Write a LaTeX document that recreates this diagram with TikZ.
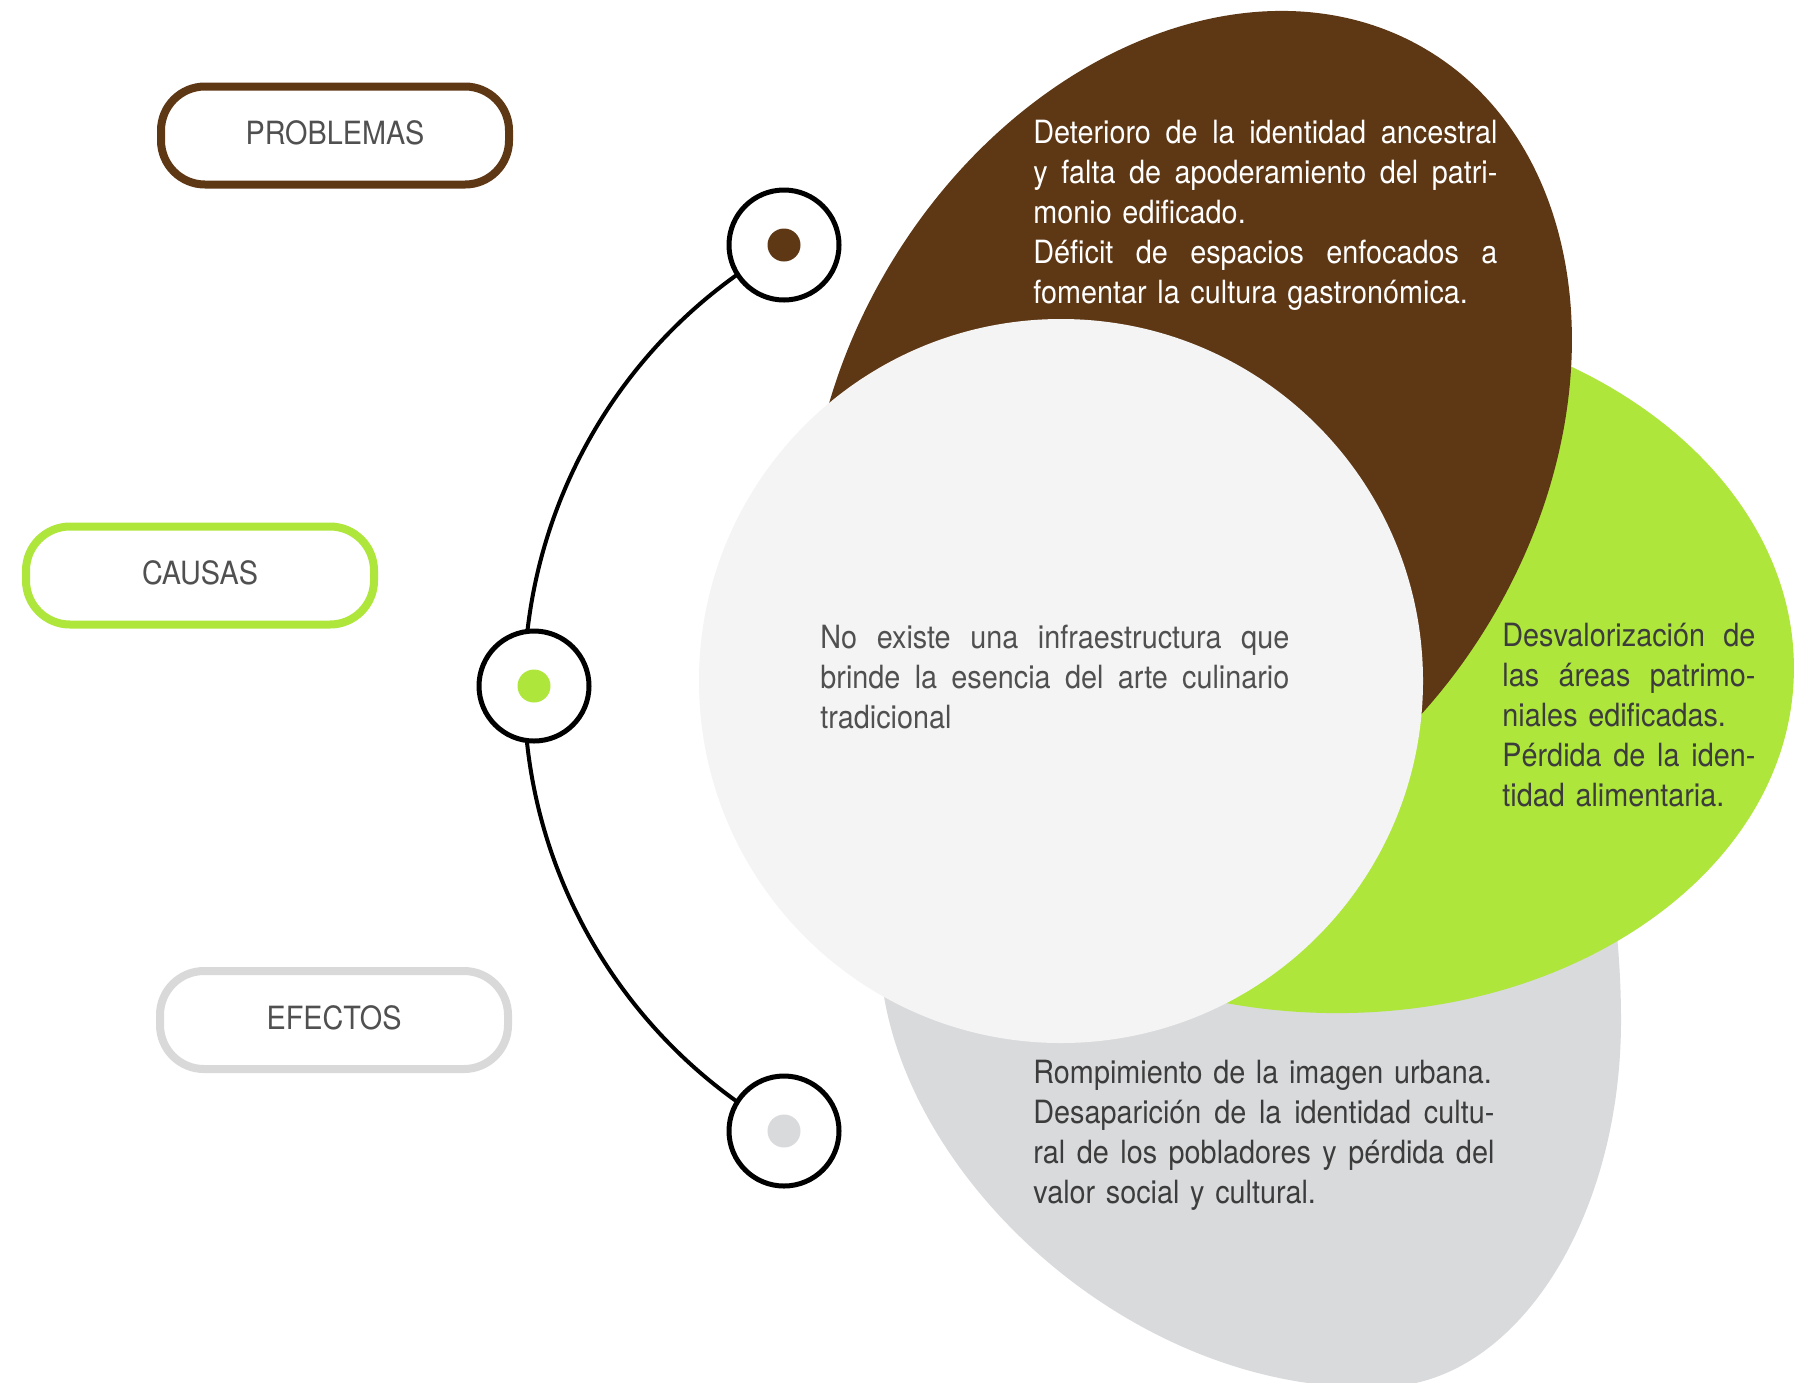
\documentclass[tikz,border=0pt]{standalone}
\usepackage{fontspec}
\setmainfont{TeX Gyre Heros}[FakeStretch=0.9]
\usetikzlibrary{backgrounds}
\definecolor{brownc}{HTML}{5E3714}
\definecolor{greenc}{HTML}{AEE63B}
\definecolor{grayc}{HTML}{D9DADC}
\definecolor{lightc}{HTML}{F4F4F4}
\definecolor{pillgray}{HTML}{D9D9D9}
\definecolor{txtc}{HTML}{505050}
\definecolor{darktxt}{HTML}{3C3C3C}
\newcommand{\jline}[2]{\leavevmode\hbox to #1{\spaceskip=0.25em plus 1fil\relax #2}\\}
\begin{document}
\begin{tikzpicture}[x=0.5pt,y=-0.5pt,
  pill/.style={draw, line width=4pt, rounded corners=22pt, minimum width=174pt,
    minimum height=49pt, inner sep=0pt, text depth=2.5pt, text=txtc, font=\fontsize{16}{20}\selectfont},
  ring/.style={circle, draw=black, line width=2.5pt, fill=white, minimum size=55pt, inner sep=0pt},
  dot/.style={circle, minimum size=16.5pt, inner sep=0pt},
  body/.style={anchor=base west, inner sep=0pt, font=\fontsize{16}{20}\selectfont},
  arcline/.style={draw=black, line width=2pt}]
\useasboundingbox (0,0) rectangle (1802,1382);
\begin{pgfonlayer}{background}
\fill[white] (0,0) rectangle (1802,1382);
\end{pgfonlayer}

% gray shape (egg, top hidden)
\fill[grayc] (880,960) .. controls (890,1170) and (1130,1395) .. (1380,1387)
  .. controls (1513,1387) and (1621,1223) .. (1621,1020)
  .. controls (1621,980) and (1618,930) .. (1610,880)
  -- (1300,900) -- cycle;
% green ellipse
\fill[greenc, rotate around={-1.5:(1330,663)}] (1330,663) ellipse[x radius=464, y radius=350];
% brown ellipse
\fill[brownc, rotate around={58.65:(1190,443)}] (1190,443) ellipse[x radius=459, y radius=349];
% light centre circle
\fill[lightc] (1061,681) circle[radius=362];

% texts
\node[body, text width=232pt, text=white] (tprob) at (1033,143)
  {\jline{232pt}{Deterioro de la identidad ancestral}\jline{232pt}{y falta de apoderamiento del patri-}monio edificado.\\\jline{232pt}{Déficit de espacios enfocados a}fomentar la cultura gastronómica.};
\node[body, text width=234.5pt, text=txtc] (tcen) at (820,648)
  {\jline{234.5pt}{No existe una infraestructura que}\jline{234.5pt}{brinde la esencia del arte culinario}tradicional};
\node[body, text width=126.5pt, text=darktxt] (tcau) at (1502,646)
  {\jline{126.5pt}{Desvalorización de}\jline{126.5pt}{las áreas patrimo-}niales edificadas.\\\jline{126.5pt}{Pérdida de la iden-}tidad alimentaria.};
\node[body, text width=230.5pt, text=darktxt] (tefe) at (1033,1083)
  {Rompimiento de la imagen urbana.\\\jline{230.5pt}{Desaparición de la identidad cultu-}\jline{230.5pt}{ral de los pobladores y pérdida del}valor social y cultural.};

% pills
\node[pill, draw=brownc] (prob) at (335,135.5) {PROBLEMAS};
\node[pill, draw=greenc] (caus) at (200,575.5) {CAUSAS};
\node[pill, draw=pillgray] (efec) at (334,1020) {EFECTOS};

% rings and dots
\node[ring] (rt) at (784,245) {};
\node[ring] (rm) at (534,686) {};
\node[ring] (rb) at (784,1131) {};
\node[dot, fill=brownc] (dt) at (rt) {};
\node[dot, fill=greenc] (dm) at (rm) {};
\node[dot, fill=grayc] (db) at (rb) {};

\begin{pgfonlayer}{background}
\draw[arcline] (rt.center) arc[start angle=240.75, end angle=119.25, radius=508];
\end{pgfonlayer}
\end{tikzpicture}
\end{document}
